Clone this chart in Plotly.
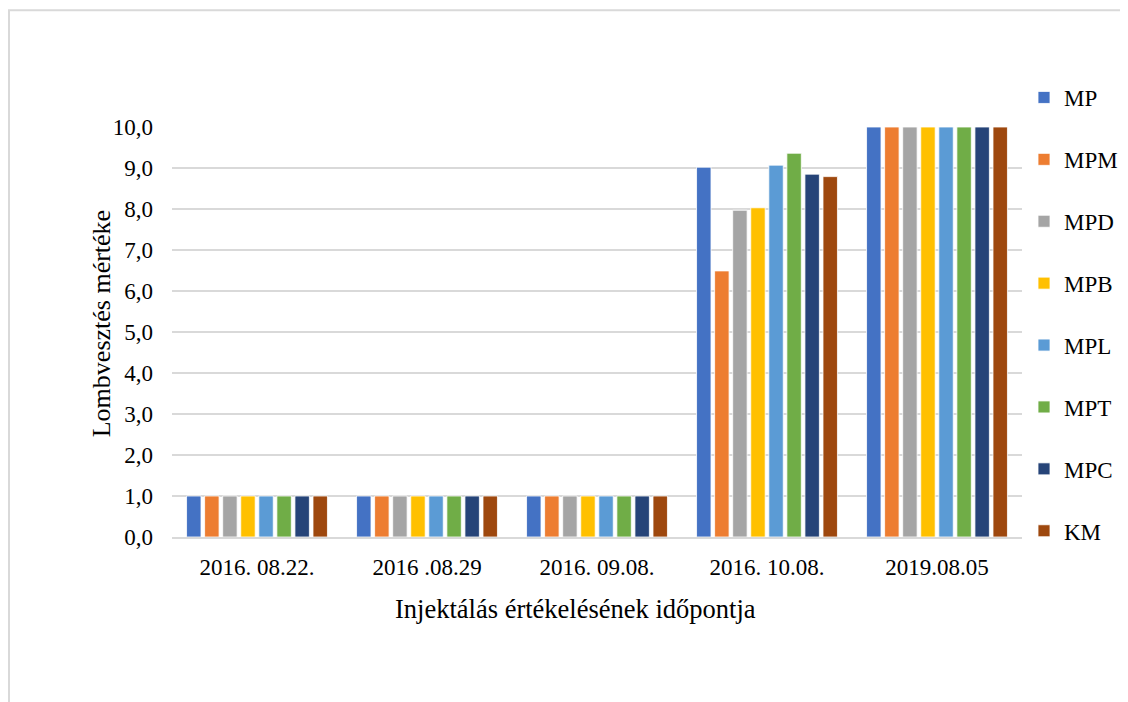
import plotly.graph_objects as go

# idopontok
dates = ["2016. 08.22.", "2016 .08.29", "2016. 09.08.", "2016. 10.08.", "2019.08.05"]

series_names = ["MP", "MPM", "MPD", "MPB", "MPL", "MPT", "MPC", "KM"]
MP = [1.0, 1.0, 1.0, 9.02, 10.0]
MPM = [1.0, 1.0, 1.0, 6.49, 10.0]
MPD = [1.0, 1.0, 1.0, 7.97, 10.0]
MPB = [1.0, 1.0, 1.0, 8.03, 10.0]
MPL = [1.0, 1.0, 1.0, 9.07, 10.0]
MPT = [1.0, 1.0, 1.0, 9.36, 10.0]
MPC = [1.0, 1.0, 1.0, 8.85, 10.0]
KM = [1.0, 1.0, 1.0, 8.79, 10.0]
values = [MP, MPM, MPD, MPB, MPL, MPT, MPC, KM]

colors = ["#4472C4", "#ED7D31", "#A5A5A5", "#FFC000",
          "#5B9BD5", "#70AD47", "#264478", "#9E480E"]

FONT = "Liberation Serif, Times New Roman, serif"

fig = go.Figure()
for name, vals, col in zip(series_names, values, colors):
    fig.add_trace(go.Bar(x=dates, y=vals, name=name, legendgroup=name,
                         marker={"color": col, "line": {"color": "white", "width": 0.8}}))

# page has an 8px body margin
OFF = 8
W, H = 1120, 694
PL, PR, PT, PB = 172, 1022, 127, 537.5   # plot area in page pixels
L, T = PL - OFF, PT - OFF
R, B = W - (PR - OFF), H - (PB - OFF)
pw, ph = W - L - R, H - T - B

def px_x(p):
    return (p - OFF - L) / pw

def px_y(p):
    return (H - B - (p - OFF)) / ph

def cx(p):
    return (p - OFF) / W

def cy(p):
    return 1 - (p - OFF) / H

fig.update_layout(
    width=W, height=H,
    margin={"l": L, "r": R, "t": T, "b": B, "autoexpand": False},
    paper_bgcolor="white", plot_bgcolor="white",
    font={"family": FONT, "size": 23, "color": "black"},
    separators=",.",
    barmode="group", bargap=0.15, bargroupgap=0.2,
    showlegend=True,
    legend={"xref": "container", "yref": "container",
            "x": cx(1024), "y": cy(76), "xanchor": "left", "yanchor": "top",
            "font": {"size": 23}, "tracegroupgap": 29, "bgcolor": "rgba(0,0,0,0)",
            "itemwidth": 30, "maxheight": 640},
    xaxis={"showgrid": False, "showline": True, "linecolor": "#d9d9d9", "linewidth": 2,
           "ticks": "", "ticklabelstandoff": 8, "tickfont": {"size": 23}},
    yaxis={"range": [0, 10], "dtick": 1, "tickformat": ".1f",
           "showgrid": True, "gridcolor": "#d9d9d9", "gridwidth": 2,
           "zeroline": False, "showline": False, "ticks": "",
           "ticklabelstandoff": 18, "tickfont": {"size": 23}},
    annotations=[
        {"text": "Injektálás értékelésének időpontja", "xref": "paper", "yref": "paper",
         "x": px_x(575), "y": px_y(627), "showarrow": False, "font": {"size": 26.5}},
        {"text": "Lombvesztés mértéke", "xref": "paper", "yref": "paper",
         "x": px_x(85), "y": px_y(324), "showarrow": False, "textangle": -90,
         "font": {"size": 26}},
    ],
    shapes=[
        {"type": "path", "xref": "paper", "yref": "paper",
         "path": "M {} {} L {} {} L {} {}".format(px_x(9), px_y(720), px_x(9), px_y(10),
                                                  px_x(1140), px_y(10)),
         "line": {"color": "#d9d9d9", "width": 2}},
    ],
)

fig.write_html("out.html")
